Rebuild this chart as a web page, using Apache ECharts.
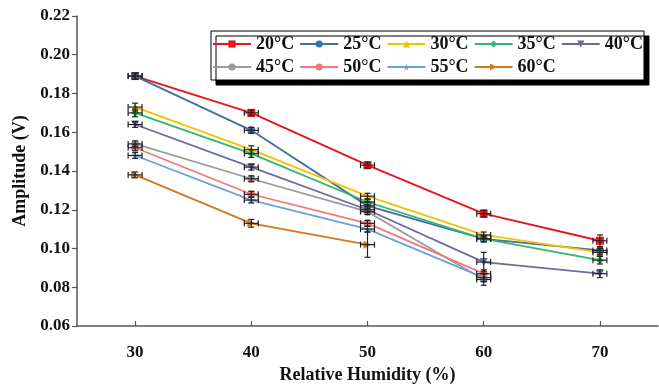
<!DOCTYPE html>
<html>
<head>
<meta charset="utf-8">
<script src="https://cdn.jsdelivr.net/npm/echarts@6/dist/echarts.min.js"></script>
<style>html,body{margin:0;padding:0;background:#fff}#c{width:659px;height:385px}</style>
</head>
<body>
<div id="c"></div>
<script>
const humidity = [30, 40, 50, 60, 70];
const xTicks = [30, 40, 50, 60, 70];
const names = ['20°C','25°C','30°C','35°C','40°C','45°C','50°C','55°C','60°C'];
const t20 = [0.189, 0.170, 0.143, 0.118, 0.104];
const t25 = [0.189, 0.161, 0.122, 0.105, 0.099];
const t30 = [0.173, 0.151, 0.127, 0.107, 0.098];
const t35 = [0.170, 0.149, 0.124, 0.105, 0.094];
const t40 = [0.164, 0.142, 0.120, 0.093, 0.087];
const t45 = [0.154, 0.136, 0.119, 0.084];
const t50 = [0.152, 0.128, 0.113, 0.087];
const t55 = [0.148, 0.125, 0.110, 0.085];
const t60 = [0.138, 0.113, 0.102];
const e20 = [0.0015, 0.0015, 0.0015, 0.0018, 0.003];
const e25 = [0.0015, 0.0015, 0.002, 0.0015, 0.002];
const e30 = [0.002, 0.002, 0.0015, 0.0015, 0.002];
const e35 = [0.002, 0.002, 0.0015, 0.0015, 0.002];
const e40 = [0.0015, 0.0015, 0.0015, 0.005, 0.002];
const e45 = [0.0015, 0.0015, 0.0015, 0.003];
const e50 = [0.0015, 0.0015, 0.0015, 0.002];
const e55 = [0.0015, 0.0015, 0.0015, 0.002];
const e60 = [0.0015, 0.002, 0.0065];
const xErr = 0.6;

const values = [t20,t25,t30,t35,t40,t45,t50,t55,t60];
const errs = [e20,e25,e30,e35,e40,e45,e50,e55,e60];
const colors = ['#e8141c','#3f6ea8','#f2c200','#33b76a','#6b6b9e','#9a9a9a','#f07a7a','#6fa0da','#cf7a1c'];
const star = 'path://M50,0 L61,35 L98,35 L68,57 L79,91 L50,70 L21,91 L32,57 L2,35 L39,35 Z';
const symbols = ['rect','circle','triangle','diamond','path://M0,0 L10,0 L5,10 Z','circle','circle',star,'path://M0,0 L10,5 L0,10 Z'];

const font = 'Liberation Serif';
const series = [];
values.forEach((vals, i) => {
  const pts = vals.map((v, j) => [humidity[j], v]);
  series.push({
    name: names[i], type: 'line', data: pts,
    symbol: symbols[i], symbolSize: 8,
    lineStyle: {color: colors[i], width: 1.8},
    itemStyle: {color: colors[i]},
    z: 2
  });
});
values.forEach((vals, i) => {
  const pts = vals.map((v, j) => [humidity[j], v, errs[i][j]]);
  series.push({
    type: 'custom', data: pts, z: 5, silent: true,
    renderItem: function (params, api) {
      const x = api.value(0), y = api.value(1), e = api.value(2);
      const top = api.coord([x, y + e]);
      const bot = api.coord([x, y - e]);
      const l = api.coord([x - xErr, y]);
      const r = api.coord([x + xErr, y]);
      const c = 3;
      const st = {stroke: '#222', lineWidth: 1.2};
      return {type: 'group', children: [
        {type: 'line', shape: {x1: top[0], y1: top[1], x2: bot[0], y2: bot[1]}, style: st},
        {type: 'line', shape: {x1: top[0]-c, y1: top[1], x2: top[0]+c, y2: top[1]}, style: st},
        {type: 'line', shape: {x1: bot[0]-c, y1: bot[1], x2: bot[0]+c, y2: bot[1]}, style: st},
        {type: 'line', shape: {x1: l[0], y1: l[1], x2: r[0], y2: r[1]}, style: st},
        {type: 'line', shape: {x1: l[0], y1: l[1]-c, x2: l[0], y2: l[1]+c}, style: st},
        {type: 'line', shape: {x1: r[0], y1: r[1]-c, x2: r[0], y2: r[1]+c}, style: st}
      ]};
    }
  });
});

const chart = echarts.init(document.getElementById('c'), null, {renderer: 'canvas'});
chart.setOption({
  animation: false,
  backgroundColor: '#fff',
  grid: {left: 77, right: 1, top: 16, bottom: 59, outerBoundsMode: 'none', containLabel: false},
  xAxis: {
    type: 'value', min: 25, max: 75,
    name: 'Relative Humidity (%)', nameLocation: 'middle', nameGap: 40,
    nameTextStyle: {fontFamily: font, fontWeight: 'bold', fontSize: 18, color: '#111'},
    axisLine: {lineStyle: {color: '#555', width: 1.5}},
    axisTick: {inside: true, length: 5, lineStyle: {color: '#555', width: 1.2}, customValues: xTicks},
    axisLabel: {customValues: xTicks, margin: 18, fontFamily: font, fontWeight: 'bold', fontSize: 17, color: '#111'},
    splitLine: {show: false}
  },
  yAxis: {
    type: 'value', min: 0.06, max: 0.22, interval: 0.02,
    name: 'Amplitude (V)', nameLocation: 'middle', nameGap: 48, nameRotate: 90,
    nameTextStyle: {fontFamily: font, fontWeight: 'bold', fontSize: 18, color: '#111'},
    axisLine: {show: true, lineStyle: {color: '#555', width: 1.5}},
    axisTick: {show: true, length: 5, lineStyle: {color: '#555', width: 1.2}},
    axisLabel: {formatter: v => v.toFixed(2), margin: 7, fontFamily: font, fontWeight: 'bold', fontSize: 17, color: '#111'},
    splitLine: {show: false}
  },
  legend: {
    data: names, left: 211, top: 31, width: 440,
    orient: 'horizontal', itemWidth: 38, itemHeight: 9, itemGap: 5,
    padding: [4, 1, 4, 1],
    backgroundColor: '#fff', borderColor: '#000', borderWidth: 1,
    shadowColor: '#000', shadowBlur: 0, shadowOffsetX: 5, shadowOffsetY: 5,
    textStyle: {fontFamily: font, fontWeight: 'bold', fontSize: 18, color: '#111', lineHeight: 18}
  },
  series: series
});
</script>
</body>
</html>
